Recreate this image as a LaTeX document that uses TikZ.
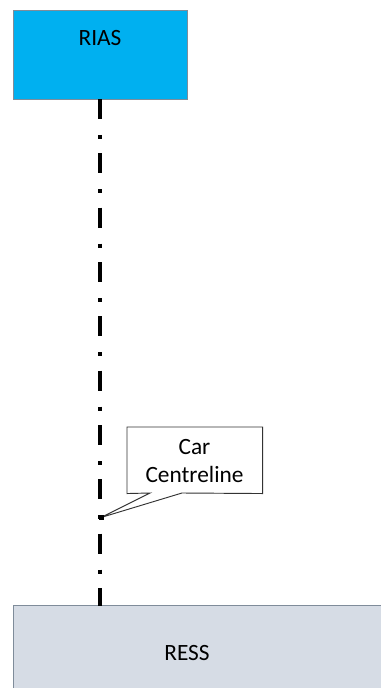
\documentclass[tikz,border=0pt]{standalone}
\usepackage{fontspec}
\setmainfont{Carlito}
\usetikzlibrary{calc}
\definecolor{riasblue}{HTML}{00B0F0}
\definecolor{ressgray}{HTML}{D6DCE5}
\definecolor{edgegray}{HTML}{7F8C9A}
\begin{document}
\begin{tikzpicture}[x=0.75pt,y=-0.75pt,
  box/.style={draw=edgegray, line width=0.8pt, inner sep=0pt},
  lbl/.style={font=\fontsize{17.5}{21}\selectfont},
  centre/.style={line width=3.5pt, black, line cap=butt, dash pattern=on 15pt off 12pt on 3pt off 10.75pt},
  callout/.style={draw=black!80, line width=0.7pt, fill=white}]
\useasboundingbox (0,0) rectangle (381,688);
% RIAS box
\node[box, fill=riasblue, minimum width=174*0.75pt, minimum height=89*0.75pt, anchor=north west] (rias) at (13,10) {};
\node[lbl] (riast) at (100,38) {RIAS};
% RESS box (runs off the page)
\node[box, fill=ressgray, minimum width=380*0.75pt, minimum height=100*0.75pt, anchor=north west] (ress) at (13,605) {};
\node[lbl] (resst) at (187,653) {RESS};
% centreline
\coordinate (ctop) at (100,99);
\coordinate (cbot) at (100,606);
\draw[centre] (ctop) -- (cbot);
% callout
\coordinate (tip) at (101,517.5);
\node[anchor=north west, minimum width=135*0.75pt, minimum height=66*0.75pt, inner sep=0pt] (call) at (127,427) {};
\draw[callout] (call.north west) -- (call.north east) -- (call.south east) -- (182,493) -- (tip) -- (150,493) -- (call.south west) -- cycle;
\node[align=center, font=\fontsize{17.5}{21}\selectfont] (callt) at (194.5,461) {Car\\Centreline};
\fill[black] ($(tip)+(-2.5,-2.5)$) rectangle ($(tip)+(2.5,2.5)$);
\end{tikzpicture}
\end{document}
